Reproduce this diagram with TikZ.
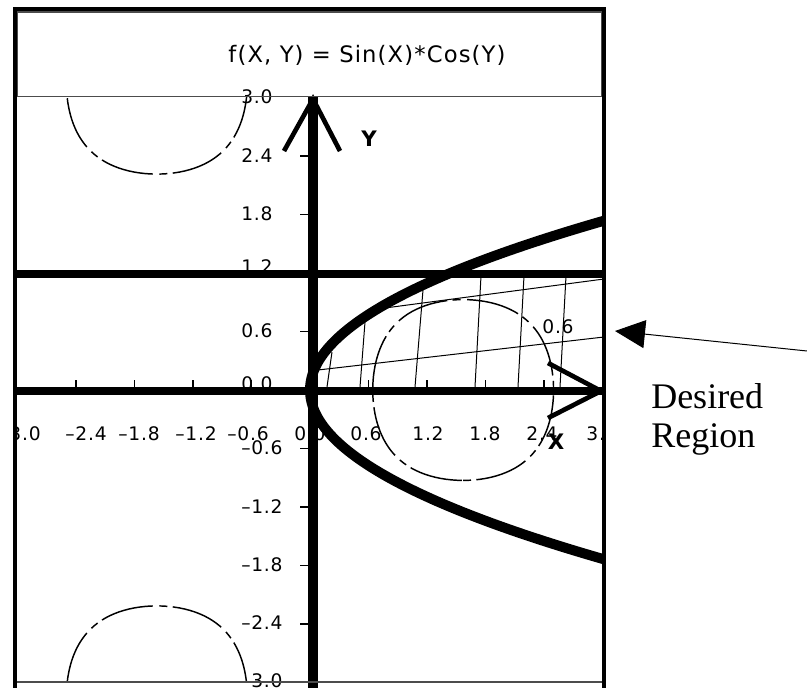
\documentclass[tikz,border=0pt]{standalone}
\usepackage{fontspec}
\setmainfont{Liberation Serif}
\newfontfamily\lblfont{DejaVu Sans}[LetterSpace=4]
\newfontfamily\ttlfont{DejaVu Sans}[LetterSpace=5]
\usetikzlibrary{arrows.meta}
\begin{document}
\begin{tikzpicture}[x=0.75pt,y=-0.75pt,
  lbl/.style={font=\lblfont\fontsize{14}{16}\selectfont, inner sep=0pt},
  axlbl/.style={font=\lblfont\bfseries\fontsize{16}{18}\selectfont, inner sep=0pt},
  ttl/.style={font=\ttlfont\fontsize{17}{20}\selectfont, inner sep=0pt},
  big/.style={font=\fontsize{27}{32}\selectfont, inner sep=0pt},
  contour/.style={line width=1.1pt, dash pattern=on 40pt off 4pt on 6pt off 5pt},
  hatch/.style={line width=0.75pt},
  tickmark/.style={line width=1.1pt},
  thickaxis/.style={line width=7pt},
  thickrule/.style={line width=6pt},
  para/.style={line width=7.5pt},
  arrowleg/.style={line width=3.5pt, line cap=butt},
  framethick/.style={line width=3pt},
  framethin/.style={line width=1.2pt, black!70},
  pointer/.style={line width=0.75pt, -{Triangle[length=22.5pt,width=21pt]}}
]
\useasboundingbox (0,0) rectangle (807,688);
\fill[white] (0,0) rectangle (807,688);

% ---------- tick labels ----------
\begin{scope}
\clip (17,0) rectangle (601,688);
\foreach \v/\py/\n in {3.0/97/a,2.4/156/b,1.8/214/c,1.2/267/d,0.6/331/e,0.0/384/f,
  –0.6/448/g,–1.2/507/h,–1.8/565/i,–2.4/623/j,–3.0/681/k}
  \node[lbl,anchor=west] (ylab\n) at (241,\py) {\v};
\foreach \v/\px/\n in {–3.0/20/a,–2.4/86/b,–1.8/139/c,–1.2/196/d,–0.6/248/e,0.0/310/f,
  0.6/366/g,1.2/428/h,1.8/485/i,2.4/542/j,3.0/602/k}
  \node[lbl] (xlab\n) at (\px,434) {\v};
\end{scope}

% ---------- ticks ----------
\foreach \py in {156,214.5,273,331.5,448.5,507,565.5,624}
  \draw[tickmark] (300,\py) -- (309,\py);
\foreach \px in {76,134.5,193,251.5,368.5,427,485.5,544}
  \draw[tickmark] (\px,380) -- (\px,388);

% ---------- contours and hatching ----------
\begin{scope}
\clip (16,97) rectangle (602,682);
\draw[contour] plot[domain=-90:90,samples=61]
  ({310+97.5*rad(asin(0.6/cos(deg(0.927*sin(\x)))))},{390-97.5*0.927*sin(\x)})
  -- plot[domain=90:-90,samples=61]
  ({310+97.5*(pi-rad(asin(0.6/cos(deg(0.927*sin(\x))))))},{390-97.5*0.927*sin(\x)}) -- cycle;
\draw[contour] plot[domain=-90:90,samples=61]
  ({310-97.5*rad(asin(0.6/cos(deg(0.927*sin(\x)))))},{390-97.5*(pi-0.927*sin(\x))})
  -- plot[domain=90:-90,samples=61]
  ({310-97.5*(pi-rad(asin(0.6/cos(deg(0.927*sin(\x))))))},{390-97.5*(pi-0.927*sin(\x))}) -- cycle;
\draw[contour] plot[domain=-90:90,samples=61]
  ({310-97.5*rad(asin(0.6/cos(deg(0.927*sin(\x)))))},{390+97.5*(pi-0.927*sin(\x))})
  -- plot[domain=90:-90,samples=61]
  ({310-97.5*(pi-rad(asin(0.6/cos(deg(0.927*sin(\x))))))},{390+97.5*(pi-0.927*sin(\x))}) -- cycle;
\end{scope}
\node[lbl] (clab) at (558,327) {0.6};

\coordinate (lo1) at (318,370);   \coordinate (lo2) at (604,337);
\coordinate (up1) at (385,308);   \coordinate (up2) at (604,279);
\draw[hatch] (lo1) -- (lo2);
\draw[hatch] (up1) -- (up2);
\foreach \xb/\xt/\yt in {327/332/352,360/365/322,415/423/290,475/481/276,518/524/276,560/566/276}
  \draw[hatch] (\xb,387) -- (\xt,\yt);

% ---------- thick lines ----------
\draw[thickrule] (15,274) -- (603,274);
\draw[thickrule] (15,391) -- (603,391);
\draw[thickaxis] (313,97) -- (313,688);
\begin{scope}
\clip (16,97) rectangle (602,682);
\draw[para] plot[domain=-1.85:1.85,samples=100,smooth] ({310+97.5*\x*\x},{390-97.5*\x});
\end{scope}

% ---------- axis arrows ----------
\coordinate (yapex) at (313,99);
\coordinate (yl) at (284,151);
\coordinate (yr) at (340,151);
\draw[arrowleg] (yl) -- (yapex) -- (yr);
\coordinate (xapex) at (601,391);
\coordinate (xu) at (548,363);
\coordinate (xd) at (548,418);
\draw[arrowleg] (xu) -- (xapex) -- (xd);

\node[axlbl] (ylabel) at (369,139) {Y};
\node[axlbl] (xlabel) at (556,442) {X};

% ---------- frame ----------
\draw[framethin] (17,12) rectangle (602,96.5);
\draw[framethin] (15,682) -- (603,682);
\draw[framethick] (13,9) -- (605,9);
\draw[framethick] (15,7.5) -- (15,688);
\draw[framethick] (603.5,7.5) -- (603.5,688);

\node[ttl] (title) at (367,55) {f(X, Y) = Sin(X)*Cos(Y)};

% ---------- annotation ----------
\coordinate (astart) at (807,351);
\coordinate (atip) at (615,331);
\draw[pointer] (astart) -- (atip);
\node[big,anchor=base west] (desired) at (651,408) {Desired};
\node[big,anchor=base west] (region) at (651,447) {Region};
\end{tikzpicture}
\end{document}
